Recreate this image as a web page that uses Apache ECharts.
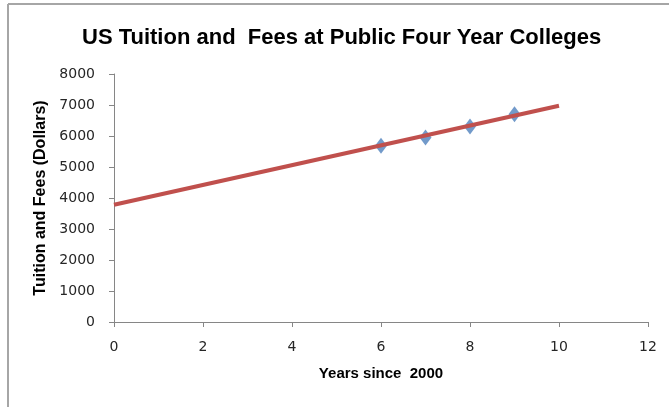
<!DOCTYPE html>
<html>
<head>
<meta charset="utf-8">
<script src="https://cdn.jsdelivr.net/npm/echarts@6/dist/echarts.min.js"></script>
<style>
  html, body { margin: 0; padding: 0; background: #ffffff; }
  #chart { width: 669px; height: 407px; }
</style>
</head>
<body>
<div id="chart"></div>
<script>
// Years since 2000 and average tuition and fees (dollars)
const years = [6, 7, 8, 9];
const tuition = [5685, 5950, 6310, 6700];

// Linear trend line endpoints (x, dollars)
const trendX = [0, 10];
const trendY = [3780, 6975];

// Axis tick settings
const xTicks = { min: 0, max: 12, interval: 2 };
const yTicks = { min: 0, max: 8000, interval: 1000 };

const titleText = 'US Tuition and  Fees at Public Four Year Colleges';
const xName = 'Years since  2000';
const yName = 'Tuition and Fees (Dollars)';

const font = '"Liberation Sans", Arial, sans-serif';
const tickFont = '"DejaVu Sans", sans-serif';
const axisGray = '#868686';
const labelColor = '#262626';

const chart = echarts.init(document.getElementById('chart'), null, { renderer: 'canvas' });

chart.setOption({
  animation: false,
  backgroundColor: '#ffffff',
  title: {
    text: titleText,
    left: 77,
    top: 22,
    textStyle: { fontFamily: font, fontWeight: 'bold', fontSize: 22, color: '#000000' }
  },
  grid: { left: 114, right: 21, top: 74, bottom: 85, containLabel: false },
  xAxis: {
    type: 'value',
    min: xTicks.min, max: xTicks.max, interval: xTicks.interval,
    name: xName,
    nameLocation: 'middle',
    nameGap: 44,
    nameTextStyle: { fontFamily: font, fontWeight: 'bold', fontSize: 15, color: '#000000' },
    axisLine: { lineStyle: { color: axisGray, width: 1 } },
    axisTick: { show: true, length: 5, lineStyle: { color: axisGray } },
    axisLabel: { margin: 18, fontFamily: tickFont, fontSize: 14, color: labelColor },
    splitLine: { show: false }
  },
  yAxis: {
    type: 'value',
    min: yTicks.min, max: yTicks.max, interval: yTicks.interval,
    name: yName,
    nameLocation: 'middle',
    nameGap: 61,
    nameTextStyle: { fontFamily: font, fontWeight: 'bold', fontSize: 16, color: '#000000' },
    axisLine: { show: true, lineStyle: { color: axisGray, width: 1 } },
    axisTick: { show: true, length: 5, lineStyle: { color: axisGray } },
    axisLabel: {
      margin: 19, fontFamily: tickFont, fontSize: 14, color: labelColor,
      formatter: v => String(v)
    },
    splitLine: { show: false }
  },
  graphic: [
    { type: 'line', shape: { x1: 8, y1: 4, x2: 669, y2: 4 }, style: { stroke: '#a6a6a6', lineWidth: 2 }, silent: true },
    { type: 'line', shape: { x1: 8, y1: 4, x2: 8, y2: 407 }, style: { stroke: '#a6a6a6', lineWidth: 2 }, silent: true }
  ],
  series: [
    {
      type: 'scatter',
      data: years.map((x, i) => [x, tuition[i]]),
      symbol: 'diamond',
      symbolSize: [12, 16],
      itemStyle: { color: '#4F81BD' },
      z: 2
    },
    {
      type: 'line',
      data: trendX.map((x, i) => [x, trendY[i]]),
      showSymbol: false,
      symbol: 'none',
      lineStyle: { color: '#C0504D', width: 4 },
      z: 3
    }
  ]
});
</script>
</body>
</html>
